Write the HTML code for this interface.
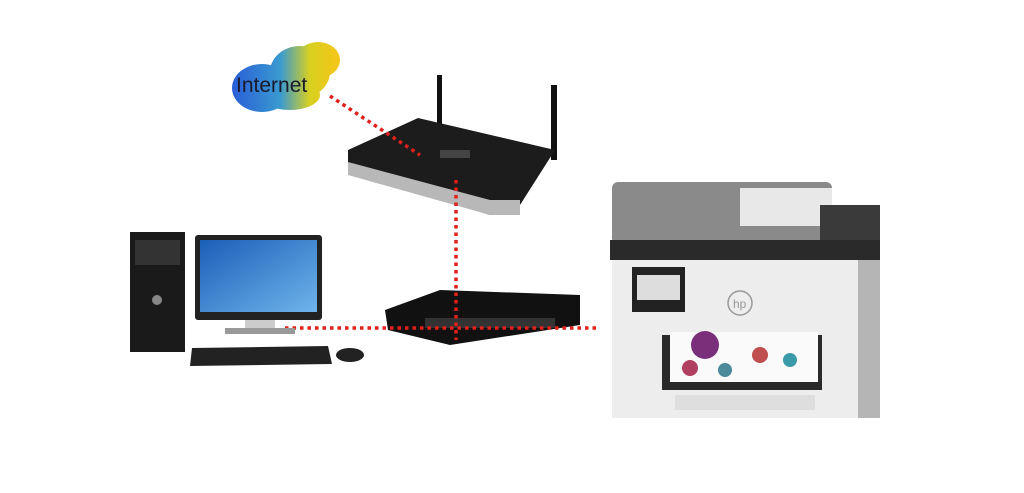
<!DOCTYPE html>
<html><head><meta charset="utf-8"><style>
html,body{margin:0;padding:0;background:#fff;}
svg{display:block;}
</style></head><body>
<svg width="1024" height="493" viewBox="0 0 1024 493" xmlns="http://www.w3.org/2000/svg">
<defs>
<linearGradient id="cl" gradientUnits="userSpaceOnUse" x1="232" y1="0" x2="340" y2="0">
<stop offset="0" stop-color="#2a5ed8"/><stop offset="0.45" stop-color="#3a9ad0"/><stop offset="0.72" stop-color="#d8d020"/><stop offset="1" stop-color="#f5c518"/></linearGradient>
<linearGradient id="scr" x1="0" y1="0" x2="1" y2="1"><stop offset="0" stop-color="#1a5fb8"/><stop offset="1" stop-color="#6fb4ea"/></linearGradient>
</defs>
<rect width="1024" height="493" fill="#fff"/>
<!-- cloud -->
<g fill="url(#cl)">
<ellipse cx="262" cy="88" rx="30" ry="24"/>
<ellipse cx="300" cy="72" rx="30" ry="26"/>
<ellipse cx="318" cy="60" rx="22" ry="18"/>
<ellipse cx="290" cy="95" rx="30" ry="15"/>
</g>
<text x="236" y="92" font-family="Liberation Sans, sans-serif" font-size="21" fill="#1a1a2a">Internet</text>
<!-- router -->
<rect x="437" y="75" width="5" height="70" fill="#111"/>
<rect x="551" y="85" width="6" height="75" fill="#111"/>
<polygon points="348,150 418,118 555,150 520,205 490,215 348,170" fill="#1c1c1c"/>
<polygon points="348,162 490,200 520,200 520,215 490,215 348,175" fill="#b8b8b8"/>
<rect x="440" y="150" width="30" height="8" fill="#444"/>
<!-- switch -->
<polygon points="385,310 440,290 580,295 580,325 450,345 388,330" fill="#111"/>
<rect x="425" y="318" width="130" height="10" fill="#333"/>
<!-- dotted lines -->
<g stroke="#e0201a" stroke-width="3.5" stroke-dasharray="3.5,4" fill="none">
<line x1="330" y1="96" x2="420" y2="155"/>
<line x1="456" y1="180" x2="456" y2="340"/>
<line x1="285" y1="328" x2="600" y2="328"/>
</g>
<!-- tower -->
<rect x="130" y="232" width="55" height="120" fill="#1a1a1a"/>
<rect x="135" y="240" width="45" height="25" fill="#333"/>
<circle cx="157" cy="300" r="5" fill="#888"/>
<!-- monitor -->
<rect x="195" y="235" width="127" height="85" rx="3" fill="#222"/>
<rect x="200" y="240" width="117" height="72" fill="url(#scr)"/>
<rect x="245" y="320" width="30" height="10" fill="#ccc"/>
<rect x="225" y="328" width="70" height="6" fill="#999"/>
<!-- keyboard, mouse -->
<polygon points="192,348 328,346 332,364 190,366" fill="#222"/>
<ellipse cx="350" cy="355" rx="14" ry="7" fill="#222"/>
<!-- printer -->
<rect x="612" y="258" width="266" height="160" fill="#ededed"/>
<rect x="858" y="258" width="22" height="160" fill="#b5b5b5"/>
<rect x="612" y="182" width="220" height="62" rx="6" fill="#8a8a8a"/>
<rect x="740" y="188" width="92" height="38" fill="#e8e8e8"/>
<rect x="820" y="205" width="60" height="55" fill="#3a3a3a"/>
<rect x="610" y="240" width="270" height="20" fill="#2a2a2a"/>
<rect x="632" y="267" width="53" height="45" fill="#222"/>
<rect x="637" y="275" width="43" height="25" fill="#ddd"/>
<circle cx="740" cy="303" r="12" fill="none" stroke="#999" stroke-width="1.5"/>
<text x="733" y="308" font-family="Liberation Sans, sans-serif" font-size="12" fill="#999">hp</text>
<rect x="662" y="335" width="160" height="55" fill="#2a2a2a"/>
<rect x="670" y="332" width="148" height="50" fill="#fafafa"/>
<circle cx="705" cy="345" r="14" fill="#7a2f7a"/>
<circle cx="690" cy="368" r="8" fill="#b04060"/>
<circle cx="725" cy="370" r="7" fill="#4a8a9a"/>
<circle cx="760" cy="355" r="8" fill="#c05050"/>
<circle cx="790" cy="360" r="7" fill="#3a9aaa"/>
<rect x="675" y="395" width="140" height="15" fill="#dedede"/>
</svg>
</body></html>
